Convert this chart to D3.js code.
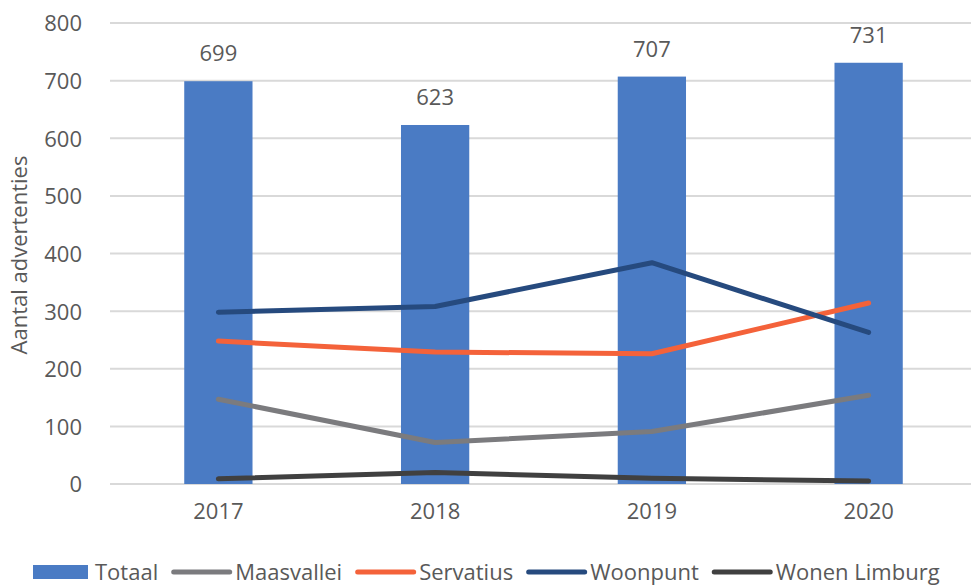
<!DOCTYPE html>
<html>
<head>
<meta charset="utf-8">
<script src="https://cdn.jsdelivr.net/npm/d3@7"></script>
<style>
  body { margin: 0; background: #fff; }
  svg text { font-family: "Open Sans", sans-serif; fill: #595959; }
</style>
</head>
<body>
<div id="chart"></div>
<script>
var years = ["2017", "2018", "2019", "2020"];
var totaal = [699, 623, 707, 731];
var maasvallei = [147, 72, 91, 154];
var servatius = [248, 229, 226, 314];
var woonpunt = [298, 308, 384, 263];
var wonenLimburg = [9, 20, 10, 5];
var yTicks = [0, 100, 200, 300, 400, 500, 600, 700, 800];

var lineSeries = [
    {name: "Maasvallei", values: maasvallei, color: "#7b7b7e"},
    {name: "Servatius", values: servatius, color: "#f4623a"},
    {name: "Woonpunt", values: woonpunt, color: "#264a7e"},
    {name: "Wonen Limburg", values: wonenLimburg, color: "#404040"}
];

var width = 971, height = 585;
var margin = {top: 23, right: -6, bottom: 101, left: 110};

var svg = d3.select("#chart")
    .append("svg")
    .attr("width", width)
    .attr("height", height);

var x = d3.scaleBand()
    .domain(years)
    .range([margin.left, width - margin.right])
    .paddingInner(0.685)
    .paddingOuter(0.3425);

var y = d3.scaleLinear()
    .domain([0, 800])
    .range([height - margin.bottom, margin.top]);

// gridlines
svg.append("g")
    .selectAll("line")
    .data(yTicks)
    .enter()
    .append("line")
    .attr("x1", margin.left)
    .attr("x2", width)
    .attr("y1", function(d) { return y(d); })
    .attr("y2", function(d) { return y(d); })
    .style("stroke", "#d9d9d9")
    .style("stroke-width", 2);

// y axis labels
var yAxis = svg.append("g")
    .attr("transform", "translate(" + (margin.left - 28) + ",0)")
    .call(d3.axisLeft(y).tickValues(yTicks).tickSize(0).tickPadding(0));
yAxis.select(".domain").remove();
yAxis.selectAll("text")
    .style("font-size", "22px")
    .attr("dy", "0.36em");

// x axis labels
var xAxis = svg.append("g")
    .attr("transform", "translate(0," + (height - margin.bottom) + ")")
    .call(d3.axisBottom(x).tickSize(0).tickPadding(20));
xAxis.select(".domain").remove();
xAxis.selectAll("text")
    .style("font-size", "22px")
    .attr("dy", "0.7em");

// bars
svg.selectAll(".bar")
    .data(totaal)
    .enter()
    .append("rect")
    .attr("class", "bar")
    .attr("x", function(d, i) { return x(years[i]); })
    .attr("width", x.bandwidth())
    .attr("y", function(d) { return y(d); })
    .attr("height", function(d) { return y(0) - y(d); })
    .style("fill", "#4a7bc4");

// bar labels
svg.selectAll(".barLabel")
    .data(totaal)
    .enter()
    .append("text")
    .attr("class", "barLabel")
    .attr("text-anchor", "middle")
    .attr("x", function(d, i) { return x(years[i]) + x.bandwidth() / 2; })
    .attr("y", function(d) { return y(d) - 20; })
    .style("font-size", "22px")
    .text(function(d) { return d; });

// lines
var line = d3.line()
    .x(function(d, i) { return x(years[i]) + x.bandwidth() / 2; })
    .y(function(d) { return y(d); });

svg.selectAll(".series")
    .data(lineSeries)
    .enter()
    .append("path")
    .attr("class", "series")
    .attr("d", function(d) { return line(d.values); })
    .style("fill", "none")
    .style("stroke", function(d) { return d.color; })
    .style("stroke-width", 5)
    .style("stroke-linecap", "round")
    .style("stroke-linejoin", "round");

// y axis title
svg.append("text")
    .attr("transform", "translate(27," + 255 + ") rotate(-90)")
    .attr("text-anchor", "middle")
    .style("font-size", "22px")
    .text("Aantal advertenties");

// legend
var legend = svg.append("g").attr("transform", "translate(33,572)");
var lx = 0;
legend.append("rect")
    .attr("x", lx).attr("y", -7)
    .attr("width", 55).attr("height", 14)
    .style("fill", "#4a7bc4");
var t0 = legend.append("text")
    .attr("x", lx + 62).attr("dy", "0.36em")
    .style("font-size", "22px")
    .text("Totaal");
lx = lx + 62 + t0.node().getComputedTextLength() + 13;
lineSeries.forEach(function(s) {
    legend.append("line")
        .attr("x1", lx + 2.5).attr("x2", lx + 58.5)
        .style("stroke", s.color)
        .style("stroke-width", 5)
        .style("stroke-linecap", "round");
    var t = legend.append("text")
        .attr("x", lx + 64).attr("dy", "0.36em")
        .style("font-size", "22px")
        .text(s.name);
    lx = lx + 64 + t.node().getComputedTextLength() + 13;
});
</script>
</body>
</html>
